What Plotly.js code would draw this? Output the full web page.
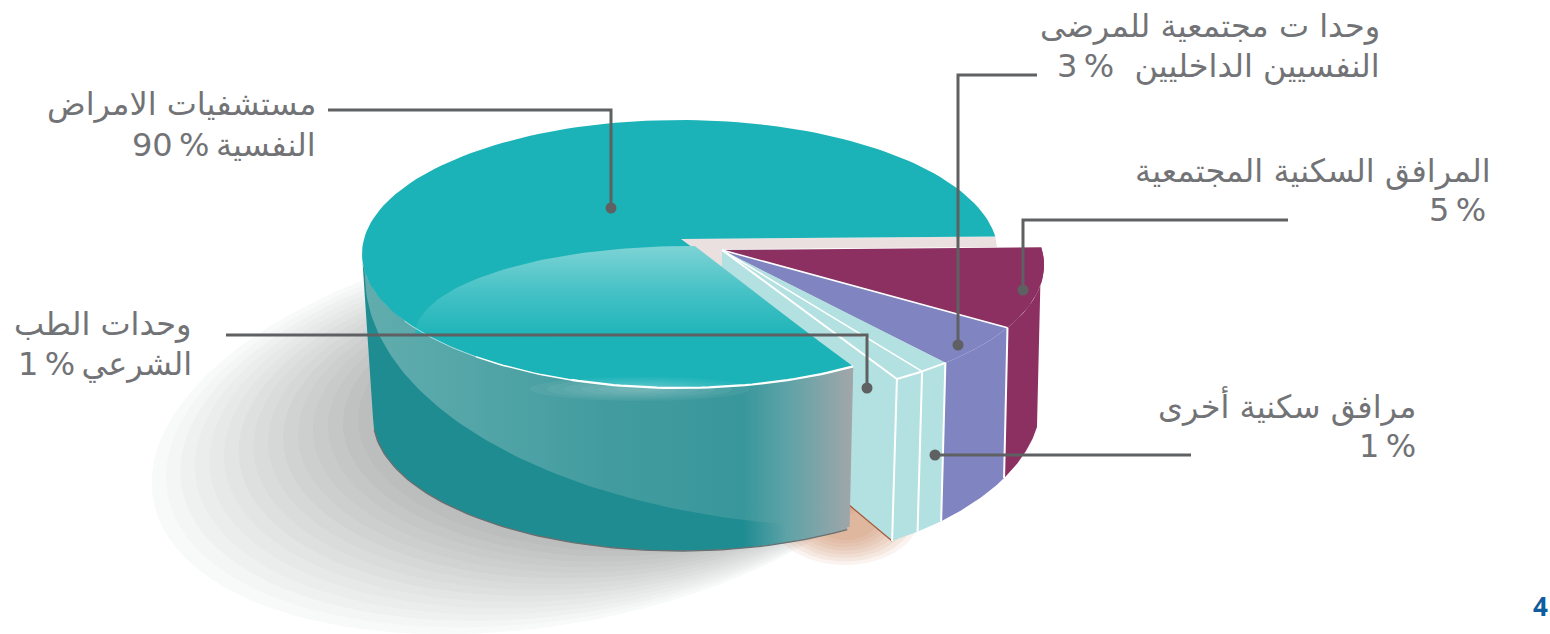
<!DOCTYPE html>
<html><head><meta charset="utf-8">
<script src="https://cdn.plot.ly/plotly-3.0.1.min.js"></script>
<style>html,body{margin:0;padding:0;background:#fff;overflow:hidden}#c{width:1550px;height:634px}</style>
</head><body><div id="c"></div>
<script>
// ---- data ----
const categories = ["مستشفيات الامراض النفسية","المرافق السكنية المجتمعية","وحدا ت مجتمعية للمرضى النفسيين الداخليين","مرافق سكنية أخرى","وحدات الطب الشرعي"];
const percents = [90, 5, 3, 1, 1];
// the artwork does not draw its wedges in proportion: these are the sweeps drawn (degrees)
const drawnSweeps = [295.5, 35, 18.5, 5.5, 5.5];
const sliceColors = ["#1bb3b8", "#8c3062", "#8084c0", "#b3e0e0", "#b3e0e0"];

const labelLines = ["مستشفيات الامراض","النفسية\u2009%\u200990","وحدا ت مجتمعية للمرضى","النفسيين الداخليين\u00A0\u00A0%\u20093","المرافق السكنية المجتمعية","5\u2009%","مرافق سكنية أخرى","1\u2009%","وحدات الطب","الشرعي\u2009%\u20091"];
const labelRight = [318,318,1382,1382,1493,1488,1418,1418,194,194];
const labelMid = [104,145,26,66,171,210,406,446,324,364];
const leaderX = [[328,611,611],[1037,958,958],[1288,1023,1023],[226,867,867],[1191,935]];
const leaderY = [[110,110,208],[75,75,345],[220,220,290],[335,335,388],[455,455]];

// ---- drawing geometry ----
const topMain = {x:680,y:254,a:318,b:134}, botMain = {x:680,y:418,a:307,b:133};
const topCut = {x:721,y:265,a:323,b:136}, botCut = {x:714,y:401,a:327,b:167};
const apexMain=[681,239], apexCut=[722,250];
const startAngle = -7.5;
const rad = d=>d*Math.PI/180;
const pt=(e,t)=>[e.x+e.a*Math.cos(rad(t)), e.y+e.b*Math.sin(rad(t))];
function arc(e,t0,t1,n=60){const o=[];for(let i=0;i<=n;i++)o.push(pt(e,t0+(t1-t0)*i/n));return o;}
function rotEll(c){const o=[];for(let i=0;i<=120;i++){const t=rad(i*3),u=c.a*Math.cos(t),v=c.b*Math.sin(t),r=rad(c.r);
  o.push([c.x+u*Math.cos(r)-v*Math.sin(r),c.y+u*Math.sin(r)+v*Math.cos(r)]);}return o;}
function poly(p,color,extra={}){return Object.assign({type:'scatter',mode:'lines',x:p.map(q=>q[0]),y:p.map(q=>q[1]),fill:'toself',fillcolor:color,line:{width:0,color:color},hoverinfo:'skip',showlegend:false},extra);}
function line(p,color,w,op=1){return {type:'scatter',mode:'lines',x:p.map(q=>q[0]),y:p.map(q=>q[1]),line:{color:color,width:w},opacity:op,hoverinfo:'skip',showlegend:false};}
function hGrad(start,stop,cs){return {fillgradient:{type:'horizontal',start:start,stop:stop,colorscale:cs}};}

// wedge boundaries from the sweeps: small slices first, clockwise on screen
const order=[1,2,3,4,0]; const bounds={}; let acc=startAngle;
order.forEach(i=>{bounds[i]=[acc,acc+drawnSweeps[i]];acc+=drawnSweeps[i];});

const traces=[];
// cast shadow bands
const outer={x:547,y:430,a:400,b:195,r:-10}, inner={x:620,y:420,a:262,b:131,r:0}, nBands=15;
for(let i=0;i<nBands;i++){const f=i/(nBands-1),c={};for(const k in outer)c[k]=outer[k]+(inner[k]-outer[k])*f;
  const g=Math.round(248-60*f);
  traces.push(poly(rotEll(c),`rgb(${g},${g+1},${g+1})`));}
// warm shadow under the cut
for(let i=0;i<8;i++){const f=i/7;traces.push(poly(rotEll({x:845,y:515,a:75-40*f,b:50-25*f,r:0}),'rgba(205,125,80,0.09)'));}
// cut face of the small slices
const c57=bounds[4][1];
const cutBot=[apexCut[0],apexCut[1]+145];
traces.push(poly([apexCut,pt(topCut,c57),pt(botCut,c57),cutBot],sliceColors[4]));
traces.push(line([[849,505],pt(botCut,c57)],'#a5573a',1.2));
// outer walls + top faces of small slices
[1,2,3,4].forEach(i=>{const[t0,t1]=bounds[i];
  const tLow = i===1 ? 9 : t0;   // the outer slice's corner is rounded off
  traces.push(poly(arc(topCut,t0,t1,30).concat(arc(botCut,t1,tLow,30)),sliceColors[i]));
  traces.push(poly([apexCut].concat(arc(topCut,t0,t1,30)),sliceColors[i]));
});
// white seams
[2,3,4].forEach(i=>{traces.push(line([pt(topCut,bounds[i][0]),pt(botCut,bounds[i][0])],'#ffffff',2));});
traces.push(line([pt(topCut,bounds[4][1]),pt(botCut,bounds[4][1])],'#ffffff',2));
traces.push(line([apexCut,pt(topCut,bounds[2][0])],'#ffffff',1.5));
traces.push(line([apexCut,pt(topCut,bounds[3][1])],'#ffffff',1.5));
traces.push(line([apexCut,pt(topCut,bounds[4][1])],'#ffffff',2));
traces.push(line(arc(topCut,bounds[3][0],bounds[4][1],12),'#ffffff',2));
// pale strip between the big slice and the small ones
traces.push(poly([apexMain,pt(topMain,startAngle),[997,247],[722,249],[721,270]],'#e9e0df'));
// main wall
const tEnd=bounds[0][0], wallP=arc(topMain,tEnd,180,80).concat(arc(botMain,180,tEnd,80));
traces.push(poly(wallP,'#1f8c92',hGrad(362,851,[[0,'#1f8c92'],[0.78,'#1f8c92'],[0.87,'#5ea3a7'],[1,'#a0a6a9']])));
const bandE={x:860,y:275,a:495,b:252};
const bandP=arc(topMain,tEnd,176,80).concat(arc(bandE,180,91.2,80));
traces.push(poly(bandP,'#4aa3a6',hGrad(362,851,[[0,'#62adae'],[0.5,'#429c9f'],[0.78,'#38979b'],[0.87,'#5ea3a7'],[1,'#a0a6a9']])));
traces.push(line(arc(botMain,175,tEnd,80),'#6a6f70',1.3));
// main top face
traces.push(poly([apexMain].concat(arc(topMain,tEnd,bounds[0][1],160)),sliceColors[0]));
// soft highlight on the top face
const hiE={x:690,y:335,a:275,b:89};
const hiP=arc(hiE,180,271,50).concat([[817,340]]);
traces.push(poly(hiP,'#3fc0c4',{fillgradient:{type:'vertical',start:246,stop:340,colorscale:[[0,'#7dd3d5'],[0.5,'#44c1c5'],[1,'#1bb3b8']]}}));
// rim light
for(let i=0;i<6;i++){const f=i/5;traces.push(poly(rotEll({x:640,y:389,a:110-85*f,b:12-9*f,r:0}),'rgba(255,255,255,0.05)'));}
traces.push(line(arc(topMain,tEnd,110,40),'#ffffff',2.2));
traces.push(line(arc(topMain,110,130,16),'#ffffff',1.5));
traces.push(line(arc(topMain,130,150,16),'#ffffff',1,0.6));
// leaders
leaderX.forEach((lx,i)=>{
  traces.push({type:'scatter',mode:'lines',x:lx,y:leaderY[i],line:{color:'#5f6062',width:3},hoverinfo:'skip',showlegend:false});
  traces.push({type:'scatter',mode:'markers',x:[lx[lx.length-1]],y:[leaderY[i][leaderY[i].length-1]],marker:{color:'#5f6062',size:11},hoverinfo:'skip',showlegend:false});
});

const annotations=labelLines.map((t,i)=>({x:labelRight[i],y:labelMid[i],xref:'x',yref:'y',xanchor:'right',yanchor:'middle',text:t,showarrow:false,align:'right',font:{family:'"DejaVu Sans",sans-serif',size:32,color:'#727376'}}));
annotations.push({x:1540,y:606,xref:'x',yref:'y',xanchor:'center',yanchor:'middle',text:'<b>4</b>',showarrow:false,font:{family:'"Open Sans",sans-serif',size:26,color:'#0f5c9e'}});

Plotly.newPlot('c',traces,{
  width:1550,height:634,margin:{l:0,r:0,t:0,b:0},paper_bgcolor:'#fff',plot_bgcolor:'#fff',showlegend:false,
  xaxis:{range:[0,1550],visible:false,fixedrange:true},
  yaxis:{range:[634,0],visible:false,fixedrange:true},
  annotations:annotations
},{displayModeBar:false,staticPlot:true});
</script></body></html>
